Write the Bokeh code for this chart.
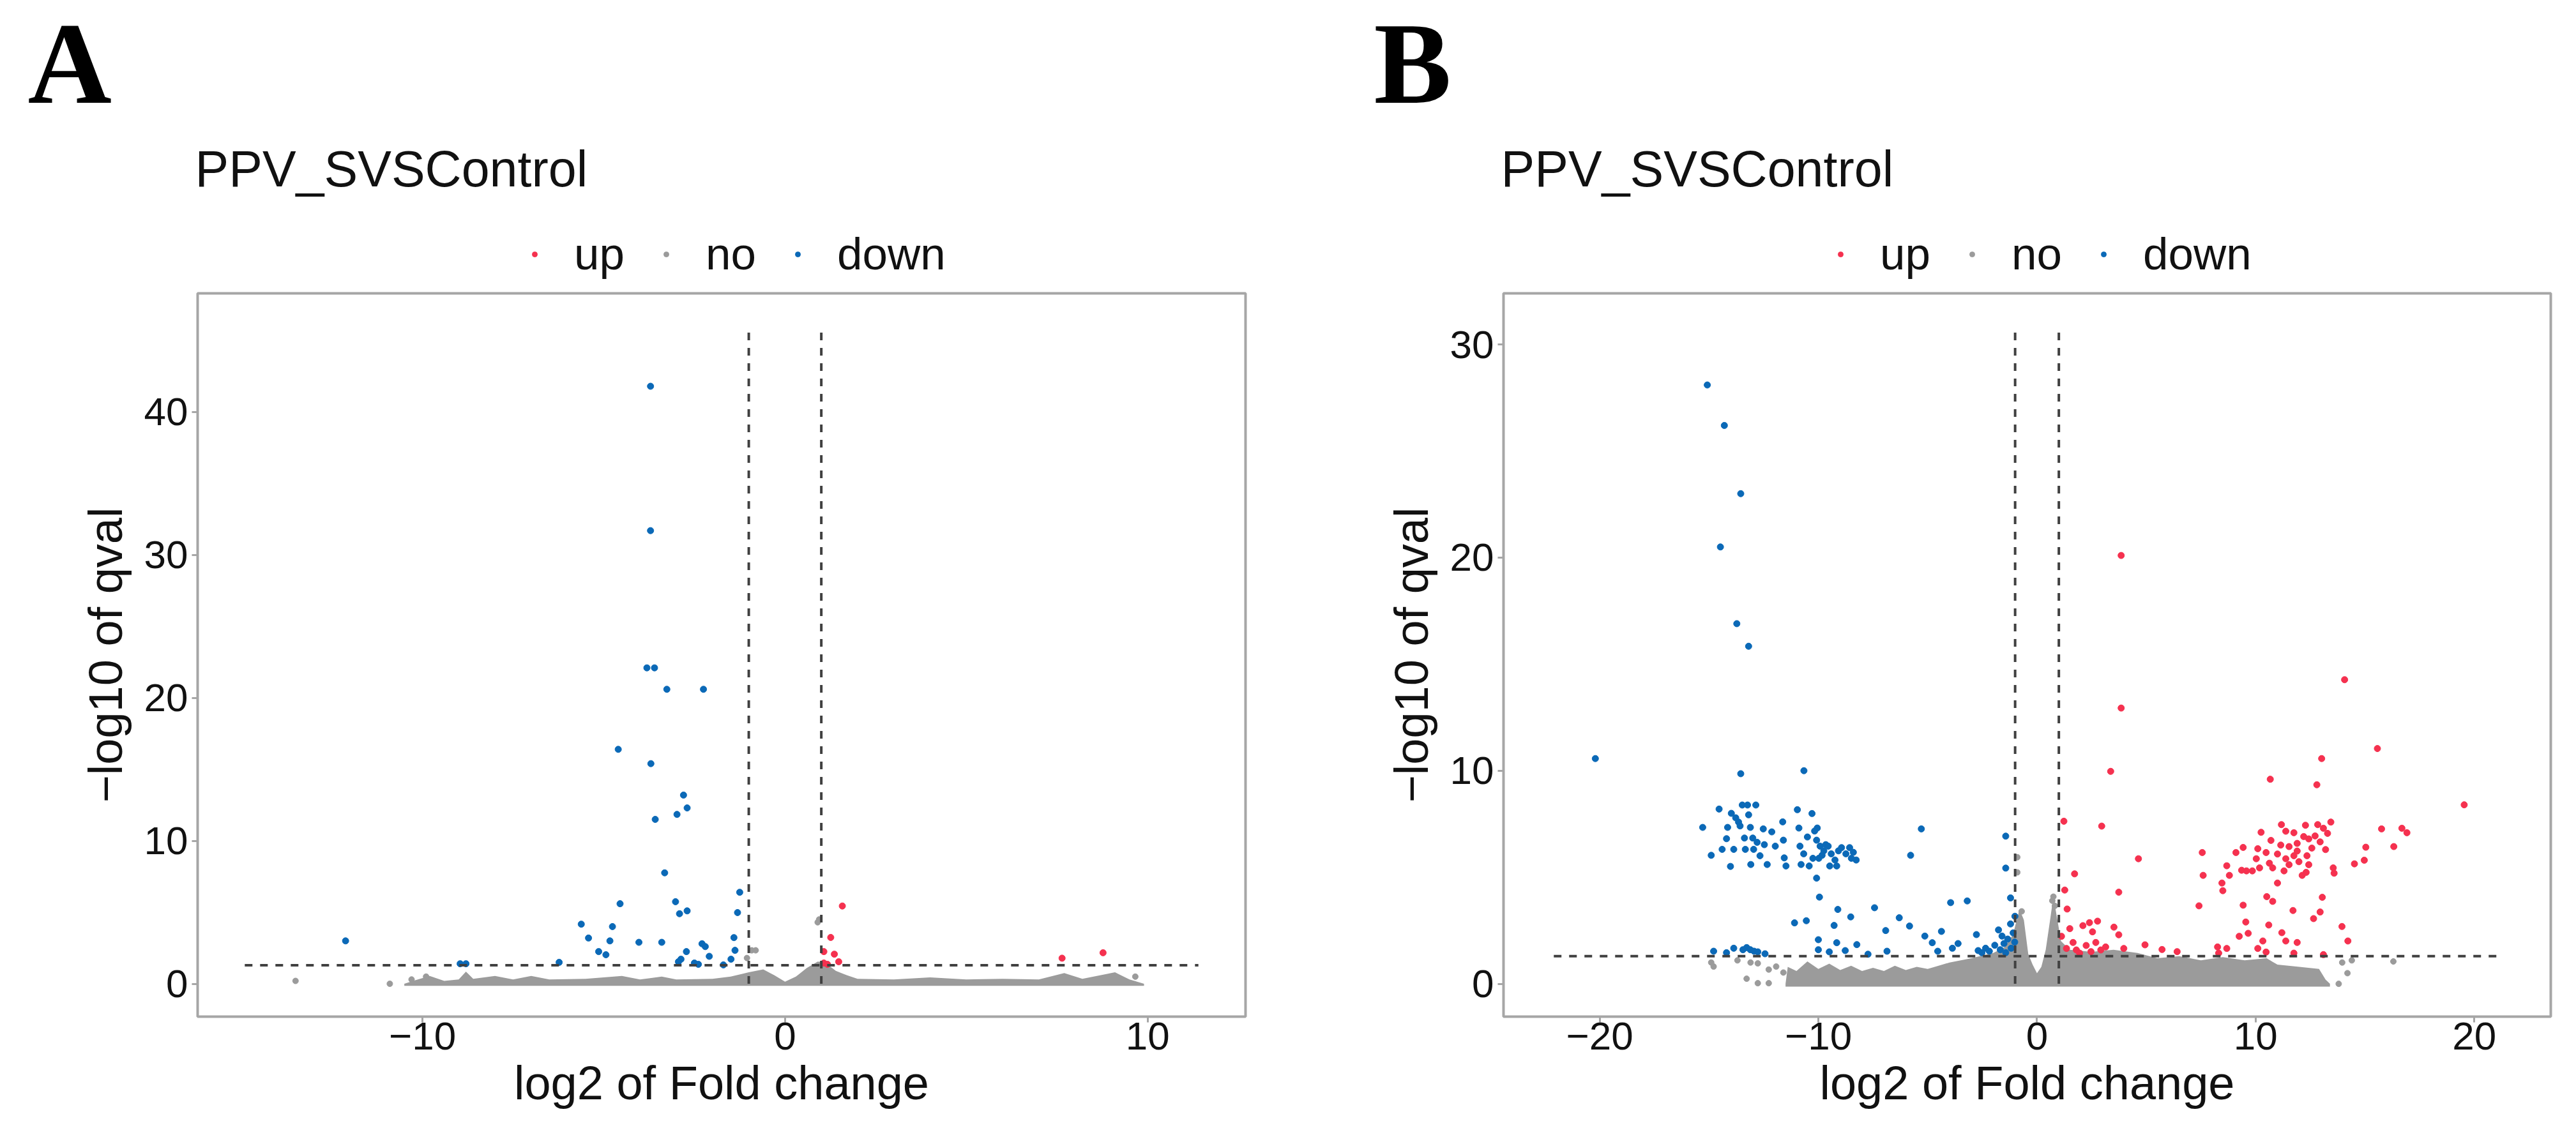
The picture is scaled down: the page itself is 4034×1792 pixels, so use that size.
from bokeh.plotting import figure
from bokeh.layouts import row, column
from bokeh.models import Range1d, Legend, LegendItem, Label, FixedTicker
from bokeh.embed import file_html
from bokeh.resources import INLINE

# ---------------- Panel A data ----------------
a_title = "PPV_SVSControl"
a_xticks = [-10, 0, 10]
a_xtick_labels = ["\u221210", "0", "10"]
a_yticks = [0, 10, 20, 30, 40]
a_ytick_labels = ["0", "10", "20", "30", "40"]

a_down_x = [-3.71, -3.71, -3.81, -3.60, -3.26, -2.25, -4.60, -3.70, -2.80, -2.70, -2.98, -3.58, -3.32,
            -1.25, -4.55, -3.02, -2.70, -2.91, -1.31, -5.62, -4.76, -5.42, -4.83, -4.03, -3.40, -1.41,
            -5.14, -4.94, -2.29, -2.20, -2.72, -1.38, -2.87, -2.94, -2.50, -2.39, -1.70, -1.49, -2.09,
            -6.23, -12.12, -8.96, -8.80]
a_down_y = [41.8, 31.7, 22.1, 22.1, 20.6, 20.6, 16.4, 15.4, 13.2, 12.3, 11.85, 11.5, 7.76,
            6.4, 5.6, 5.74, 5.1, 4.9, 4.98, 4.17, 4.0, 3.2, 3.0, 2.9, 2.9, 3.23,
            2.25, 2.03, 2.8, 2.6, 2.25, 2.34, 1.72, 1.54, 1.45, 1.36, 1.32, 1.72, 1.92,
            1.5, 3.0, 1.4, 1.4]
a_up_x = [1.58, 1.26, 1.36, 1.48, 1.07, 1.07, 1.17, 7.64, 8.77]
a_up_y = [5.44, 3.24, 2.07, 1.54, 2.25, 1.45, 1.36, 1.79, 2.17]
a_no_x = [-13.5, -10.9, -0.92, -0.81, 0.90, 0.94, 9.66, -1.05, -10.3, -9.9]
a_no_y = [0.2, 0.0, 2.34, 2.34, 4.3, 4.5, 0.5, 1.8, 0.3, 0.5]
# dense "no" cloud: upper envelope
a_band_x = [-10.5, -10.2, -9.8, -9.4, -9.0, -8.8, -8.6, -8.0, -7.5, -7.0, -6.5, -5.5, -4.5, -4.0,
            -3.4, -3.0, -2.0, -1.5, -1.0, -0.6, -0.3, 0.0, 0.3, 0.6, 0.9, 1.1, 1.4, 1.7, 2.0,
            3.0, 4.0, 5.0, 6.0, 7.0, 7.7, 8.2, 9.1, 9.5, 9.9]
a_band_top = [0.0, 0.25, 0.55, 0.2, 0.3, 0.85, 0.35, 0.55, 0.3, 0.55, 0.3, 0.35, 0.55, 0.3,
              0.5, 0.3, 0.35, 0.5, 0.8, 1.0, 0.6, 0.15, 0.5, 1.1, 1.55, 1.5, 0.9, 0.6, 0.35,
              0.3, 0.45, 0.3, 0.35, 0.3, 0.75, 0.35, 0.8, 0.3, 0.0]
a_band_bottom = -0.15
a_fc_cut = [-1, 1]
a_q_cut = 1.3
a_vline_top = 45.9
a_hline_x = [-14.9, 11.4]
a_xrange = (-16.2, 12.7)
a_yrange = (-2.3, 48.3)

# ---------------- Panel B data ----------------
b_title = "PPV_SVSControl"
b_xticks = [-20, -10, 0, 10, 20]
b_xtick_labels = ["\u221220", "\u221210", "0", "10", "20"]
b_yticks = [0, 10, 20, 30]
b_ytick_labels = ["0", "10", "20", "30"]

b_down = [
    (-15.08, 28.1), (-14.30, 26.2), (-13.55, 23.0), (-14.48, 20.5), (-13.73, 16.9), (-13.19, 15.84),
    (-20.2, 10.57), (-13.55, 9.86), (-10.66, 10.0),
    (-15.29, 7.34), (-14.9, 6.03), (-14.54, 8.2), (-14.4, 6.31), (-14.2, 6.81), (-14.15, 7.34),
    (-14.02, 5.51), (-13.98, 8.0), (-13.87, 6.31), (-13.78, 7.79), (-13.65, 7.59), (-13.58, 7.41),
    (-13.48, 8.39), (-13.38, 6.84), (-13.34, 6.31), (-13.24, 8.39), (-13.19, 7.93), (-13.11, 7.34),
    (-13.09, 5.6), (-13.0, 6.84), (-12.96, 6.31), (-12.86, 8.39), (-12.8, 6.64), (-12.67, 6.01),
    (-12.52, 7.27), (-12.47, 6.53), (-12.34, 5.6), (-12.13, 7.13), (-11.97, 6.46), (-11.63, 7.6),
    (-11.6, 6.74), (-11.56, 5.91), (-11.48, 5.53), (-10.96, 8.17), (-10.89, 7.31), (-10.84, 6.46),
    (-10.79, 5.6), (-10.67, 6.1), (-10.5, 6.89), (-10.42, 5.53), (-10.29, 7.99), (-10.25, 5.89),
    (-10.17, 7.17), (-10.08, 6.74), (-10.05, 7.31), (-9.98, 5.89), (-9.92, 6.46), (-9.83, 6.03),
    (-9.75, 6.24), (-9.66, 6.53), (-9.55, 6.46), (-9.48, 5.53), (-9.41, 6.1), (-9.24, 5.81),
    (-9.16, 5.53), (-9.08, 6.24), (-8.94, 6.39), (-8.74, 6.1), (-8.57, 6.39), (-8.49, 5.89),
    (-8.27, 5.81), (-8.4, 6.17),
    (-5.29, 7.27), (-5.78, 6.03), (-10.08, 4.96), (-9.95, 4.07), (-11.09, 2.86), (-10.55, 2.96),
    (-9.11, 3.49), (-8.52, 3.14), (-7.43, 3.57), (-9.28, 2.74), (-6.92, 2.5), (-6.3, 3.1),
    (-5.83, 2.71), (-3.95, 3.81), (-3.19, 3.89), (-4.37, 2.46), (-5.13, 2.24), (-4.79, 1.93),
    (-10.0, 2.07), (-10.0, 1.6), (-9.5, 1.5), (-9.16, 1.93), (-8.77, 1.56), (-8.24, 1.84),
    (-7.73, 1.39), (-6.86, 1.53), (-4.54, 1.53), (-3.87, 1.67), (-3.61, 1.89), (-2.77, 2.31),
    (-2.69, 1.56), (-2.35, 1.67), (-1.43, 6.93), (-1.43, 5.43), (-1.21, 4.03), (-1.01, 3.17),
    (-1.21, 2.81), (-1.76, 2.53), (-1.6, 2.24), (-1.51, 1.89), (-1.34, 2.1), (-1.09, 2.39),
    (-1.68, 1.6), (-1.18, 1.67), (-1.43, 1.46), (-1.02, 1.96), (-1.93, 1.81), (-2.52, 1.46),
    (-2.18, 1.53),
    (-14.79, 1.53), (-14.2, 1.46), (-13.87, 1.67), (-13.28, 1.7), (-13.11, 1.6), (-12.94, 1.53),
    (-12.77, 1.5), (-12.44, 1.41), (-13.45, 1.6)]
b_up = [
    (3.85, 20.1), (14.07, 14.27), (3.85, 12.94), (15.57, 11.04), (13.02, 10.57), (10.67, 9.6),
    (12.8, 9.34), (3.37, 9.97), (19.54, 8.4), (1.23, 7.63), (2.96, 7.4), (15.76, 7.27),
    (16.69, 7.3), (16.92, 7.09), (16.32, 6.44), (15.04, 6.41), (14.52, 5.63), (14.97, 5.8),
    (4.64, 5.87), (1.72, 5.16), (3.74, 4.3), (1.27, 4.4), (1.38, 3.51), (7.56, 6.16), (7.6, 5.09),
    (8.46, 4.73), (8.5, 4.37), (7.41, 3.66), (9.43, 3.69), (9.55, 2.9), (9.25, 2.23), (9.66, 2.37),
    (10.6, 2.76), (11.2, 2.4), (11.71, 3.44), (10.51, 4.09), (10.78, 3.87), (11.0, 4.73),
    (13.05, 4.06), (12.95, 3.37), (12.65, 3.06), (13.95, 2.69), (14.22, 2.01), (11.38, 2.01),
    (11.9, 1.94), (10.33, 2.01), (10.1, 1.66), (10.48, 1.49), (11.75, 1.44), (13.1, 1.37),
    (8.26, 1.73), (8.68, 1.66), (8.31, 1.44), (4.94, 1.83), (5.72, 1.61), (6.41, 1.51),
    (10.25, 7.11), (11.18, 7.47), (12.28, 7.44), (12.84, 7.47), (13.44, 7.59), (13.29, 7.06),
    (13.2, 6.3), (13.55, 5.44), (13.59, 5.19), (9.43, 6.4), (9.1, 6.16), (8.68, 5.54), (8.8, 5.09),
    (9.36, 5.33), (9.85, 5.3), (10.03, 5.87), (10.1, 6.34), (10.48, 6.16), (10.7, 6.73),
    (11.0, 6.09), (10.78, 5.44), (11.3, 5.3), (11.53, 5.59), (11.75, 6.01), (11.9, 6.59),
    (11.98, 5.73), (12.13, 5.09), (12.31, 5.23), (12.57, 6.37), (12.2, 6.91), (11.75, 7.09),
    (12.72, 6.94), (12.43, 5.59), (12.95, 6.66), (11.15, 6.51), (11.38, 7.16), (13.1, 7.3),
    (11.9, 6.23), (12.35, 6.01), (10.63, 5.66), (9.58, 5.3), (11.38, 5.87), (12.43, 6.8),
    (11.53, 6.44), (10.18, 5.44),
    (1.5, 2.59), (1.65, 1.94), (2.1, 2.73), (2.4, 2.87), (2.77, 2.94), (2.54, 2.44), (1.35, 1.66),
    (1.8, 1.59), (2.25, 1.8), (2.69, 1.94), (2.92, 1.59), (3.14, 1.73), (3.52, 2.66), (3.74, 2.3),
    (3.97, 1.66), (1.12, 2.23), (1.95, 1.44), (2.47, 1.51)]
b_no = [
    (-14.79, 0.81), (-13.28, 0.24), (-12.77, 0.03), (-12.27, 0.03), (-13.7, 1.1), (-12.77, 0.96),
    (-12.27, 0.67), (-11.93, 0.81), (-11.6, 0.53), (-0.9, 5.94), (-0.9, 5.23), (0.75, 4.09),
    (0.82, 3.66), (13.8, 0.0), (14.2, 0.5), (14.4, 1.1), (16.3, 1.05), (13.96, 1.0),
    (-14.9, 1.0), (-13.1, 1.0), (-0.7, 3.4), (0.7, 3.9)]
b_down_x = [d[0] for d in b_down]
b_down_y = [d[1] for d in b_down]
b_up_x = [d[0] for d in b_up]
b_up_y = [d[1] for d in b_up]
b_no_x = [d[0] for d in b_no]
b_no_y = [d[1] for d in b_no]
b_band_x = [-11.5, -11.4, -11.0, -10.5, -10.0, -9.5, -9.0, -8.5, -8.0, -7.5, -7.0, -6.5, -6.0,
            -5.5, -5.0, -4.5, -4.0, -3.0, -2.0, -1.5, -1.1, -0.8, -0.6, -0.4, -0.2, 0.0, 0.2,
            0.4, 0.6, 0.75, 0.9, 1.1, 1.5, 2.5, 3.5, 4.6, 5.5, 6.5, 7.5, 8.5, 9.5, 10.5, 11.0,
            12.0, 12.9, 13.2, 13.4]
b_band_top = [0.0, 0.8, 0.6, 1.05, 0.7, 0.95, 0.65, 0.85, 0.6, 0.75, 0.6, 0.85, 0.65,
              0.8, 0.7, 0.85, 1.0, 1.2, 1.45, 1.7, 2.3, 3.5, 3.0, 1.4, 0.9, 0.5, 0.8,
              1.6, 3.0, 4.1, 3.2, 2.0, 1.6, 1.5, 1.6, 1.45, 1.2, 1.3, 1.1, 1.25, 1.1, 1.2, 0.9,
              0.8, 0.7, 0.2, 0.0]
b_band_bottom = -0.13
b_fc_cut = [-1, 1]
b_q_cut = 1.3
b_vline_top = 30.86
b_hline_x = [-22.1, 21.3]
b_xrange = (-24.4, 23.5)
b_yrange = (-1.54, 32.4)

legend_labels = ["up", "no", "down"]

RED = "#F5314F"
BLUE = "#0B69B7"
GRAY = "#9B9B9B"
LINE = "#404040"
FRAME = "#A6A6A6"
FONT = "Liberation Sans"
HEAD_H = 452
MAIN_H = 1324
NAN = float("nan")


def make_header(width, frame_left, title, letter, letter_x):
    h = figure(width=width, height=HEAD_H, x_range=Range1d(0, width), y_range=Range1d(0, HEAD_H),
               output_backend="svg", toolbar_location=None, title=None,
               x_axis_type=None, y_axis_type=None, min_border=0,
               min_border_left=0, min_border_right=0, min_border_top=0, min_border_bottom=0)
    h.grid.visible = False
    h.outline_line_color = None
    h.background_fill_color = "white"
    h.border_fill_color = "white"
    # y measured upward from the bottom of the header strip
    h.add_layout(Label(x=letter_x, y=HEAD_H - 99, text=letter, text_font_size="182px",
                       text_font="Liberation Serif", text_font_style="bold", text_color="black",
                       text_align="left", text_baseline="alphabetic"))
    h.add_layout(Label(x=frame_left - 4, y=HEAD_H - 264, text=title, text_font_size="79px",
                       text_font=FONT, text_color="#111111",
                       text_align="left", text_baseline="alphabetic"))
    r_up = h.scatter([NAN], [NAN], size=7, color=RED)
    r_no = h.scatter([NAN], [NAN], size=7, color=GRAY)
    r_dn = h.scatter([NAN], [NAN], size=7, color=BLUE)
    legend = Legend(items=[LegendItem(label=legend_labels[0], renderers=[r_up]),
                           LegendItem(label=legend_labels[1], renderers=[r_no]),
                           LegendItem(label=legend_labels[2], renderers=[r_dn])],
                    location=(frame_left + 518, 14), orientation="horizontal",
                    glyph_width=20, glyph_height=20, label_standoff=52, spacing=55,
                    padding=0, margin=0, border_line_color=None, background_fill_alpha=0,
                    label_text_font_size="71px", label_text_font=FONT,
                    label_text_color="#111111")
    h.add_layout(legend)
    return h


def make_panel(width, bl, br, xr, yr, xticks, xlabels, yticks, ylabels,
               up_x, up_y, no_x, no_y, down_x, down_y, band_x, band_top, band_bottom,
               fc_cut, q_cut, vtop, hx):
    p = figure(width=width, height=MAIN_H, x_range=Range1d(*xr), y_range=Range1d(*yr),
               output_backend="svg", toolbar_location=None, title=None,
               min_border_left=bl, min_border_right=br, min_border_top=7, min_border_bottom=184)
    p.background_fill_color = "white"
    p.border_fill_color = "white"
    p.grid.visible = False
    p.outline_line_color = FRAME
    p.outline_line_width = 4

    for ax in p.axis:
        ax.axis_line_color = None
        ax.major_tick_line_color = FRAME
        ax.major_tick_line_width = 3
        ax.major_tick_out = 9
        ax.major_tick_in = 0
        ax.minor_tick_line_color = None
        ax.major_label_text_font_size = "62px"
        ax.major_label_text_font = FONT
        ax.major_label_text_color = "#111111"
        ax.axis_label_text_font_size = "74px"
        ax.axis_label_text_font = FONT
        ax.axis_label_text_font_style = "normal"
        ax.axis_label_text_color = "#111111"
    p.xaxis.ticker = FixedTicker(ticks=xticks)
    p.xaxis.major_label_overrides = dict(zip(xticks, xlabels))
    p.yaxis.ticker = FixedTicker(ticks=yticks)
    p.yaxis.major_label_overrides = dict(zip(yticks, ylabels))
    p.xaxis.axis_label = "log2 of Fold change"
    p.yaxis.axis_label = "\u2212log10 of qval"
    p.xaxis.major_label_standoff = 0
    p.xaxis.axis_label_standoff = 8
    p.yaxis.major_label_standoff = 6
    p.yaxis.axis_label_standoff = 16

    p.varea(x=band_x, y1=band_bottom, y2=band_top, fill_color=GRAY)
    p.scatter(no_x, no_y, size=9, color=GRAY)
    p.scatter(down_x, down_y, size=10, color=BLUE)
    p.scatter(up_x, up_y, size=10, color=RED)

    p.segment(x0=fc_cut, y0=[0, 0], x1=fc_cut, y1=[vtop, vtop],
              line_color=LINE, line_width=4, line_dash="12 12")
    p.segment(x0=[hx[0]], y0=[q_cut], x1=[hx[1]], y1=[q_cut],
              line_color=LINE, line_width=4, line_dash="12 12")
    return p


hA = make_header(2132, 309, a_title, "A", 43)
hB = make_header(1886, 222, b_title, "B", 19)
pA = make_panel(2132, 309, 182, a_xrange, a_yrange, a_xticks, a_xtick_labels, a_yticks, a_ytick_labels,
                a_up_x, a_up_y, a_no_x, a_no_y, a_down_x, a_down_y, a_band_x, a_band_top, a_band_bottom,
                a_fc_cut, a_q_cut, a_vline_top, a_hline_x)
pB = make_panel(1886, 222, 24, b_xrange, b_yrange, b_xticks, b_xtick_labels, b_yticks, b_ytick_labels,
                b_up_x, b_up_y, b_no_x, b_no_y, b_down_x, b_down_y, b_band_x, b_band_top, b_band_bottom,
                b_fc_cut, b_q_cut, b_vline_top, b_hline_x)

layout = column(row(hA, hB), row(pA, pB))
open("out.html", "w").write(file_html(layout, INLINE))
